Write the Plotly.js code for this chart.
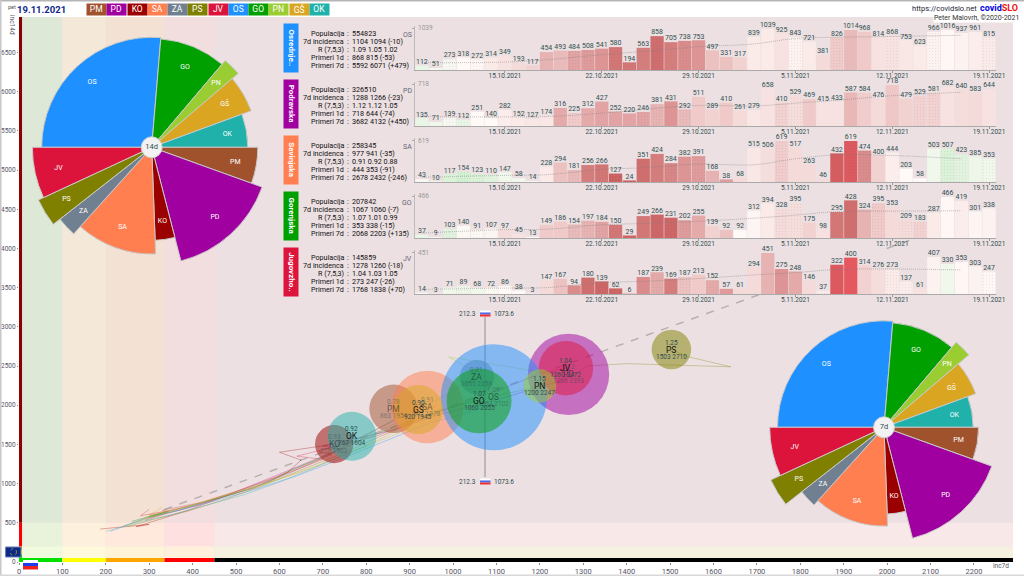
<!DOCTYPE html>
<html><head><meta charset="utf-8">
<script src="https://cdn.plot.ly/plotly-3.0.1.min.js"></script>
<style>html,body{margin:0;padding:0;background:#fff}</style></head>
<body><div id="c" style="width:1024px;height:576px"></div>
<script>
var FONT = 'Roboto, sans-serif', INK = '#2f4f4f';
var regionCodes = ['PM','PD','KO','SA','ZA','PS','JV','OS','GO','PN','GŠ','OK'];
var regionColors = ['#a0522d','#a000a0','#9b0000','#ff7f50','#708090','#808000','#dc143c','#1e90ff','#00a000','#9acd32','#daa520','#20b2aa'];
var regionPop = [116000,326510,72000,258345,58000,77000,145859,554823,207842,54000,119000,118000];
var inc7d = [863,1266,726,941,1055,1503,1260,1094,1060,1200,920,767];
var inc14d = [1954,2393,1503,1978,2358,2710,2472,2102,2055,2247,1945,1604];
var rValue = ['0.78','1.12','0.93','0.91','0.81','1.25','1.04','1.09','1.07','1.15','0.90','0.92'];
var labelFaded = [1,1,1,1,1,0,0,1,0,0,0,0];
var pieOrder = ['OS','GO','PN','GŠ','OK','PM','PD','KO','SA','ZA','PS','JV'];

var days = ['9.10.2021','10.10.2021','11.10.2021','12.10.2021','13.10.2021','14.10.2021','15.10.2021','16.10.2021','17.10.2021','18.10.2021','19.10.2021','20.10.2021','21.10.2021','22.10.2021','23.10.2021','24.10.2021','25.10.2021','26.10.2021','27.10.2021','28.10.2021','29.10.2021','30.10.2021','31.10.2021','1.11.2021','2.11.2021','3.11.2021','4.11.2021','5.11.2021','6.11.2021','7.11.2021','8.11.2021','9.11.2021','10.11.2021','11.11.2021','12.11.2021','13.11.2021','14.11.2021','15.11.2021','16.11.2021','17.11.2021','18.11.2021','19.11.2021'];
var dayTicks = ['15.10.2021','22.10.2021','29.10.2021','5.11.2021','12.11.2021','19.11.2021'];

var casesOS = [112,51,273,318,272,314,349,193,117,454,493,484,508,541,580,194,563,858,705,738,753,497,331,317,839,1039,925,843,721,381,826,1014,968,814,868,753,623,966,1016,937,961,815];
var casesPD = [135,71,139,112,251,140,282,152,127,174,316,225,312,427,252,220,246,381,431,292,511,289,410,261,279,658,410,529,469,415,433,587,584,476,718,479,529,581,682,640,583,644];
var casesSA = [43,10,117,154,123,110,147,58,14,228,294,181,256,266,127,24,351,424,284,382,391,168,38,68,515,506,619,517,263,46,432,619,474,400,444,203,58,503,507,423,385,353];
var casesGO = [37,9,103,140,91,107,97,45,13,149,186,154,197,184,150,29,249,266,231,202,255,139,92,92,312,394,328,395,175,98,295,428,324,395,353,209,183,287,466,419,301,338];
var casesJV = [14,3,71,89,68,72,86,38,3,147,167,94,180,139,62,6,187,239,169,187,213,152,57,61,294,451,275,248,146,37,322,400,314,276,273,137,61,407,330,353,303,247];

var shadeOS = [-.15,-.05,-.05,0,.02,.1,.15,.2,.25,.45,.4,.55,.6,.65,.85,.85,.8,.9,.8,.7,.65,.35,.35,.25,.1,.1,.15,.05,.1,.2,.3,.4,.3,.15,.15,.12,.1,.05,.02,.05,.08,.1];
var shadePD = [-.15,-.1,-.05,-.15,0,0,.08,.1,.12,.12,.5,.3,.5,.55,.55,.55,.55,.45,.65,.4,.3,.25,.3,.2,.12,.15,.25,.18,.3,.15,.15,.42,.28,.2,.32,.25,.25,.25,.15,.18,.2,.15];
var shadeSA = [-.05,-.05,-.25,-.3,-.25,-.2,-.1,-.08,-.02,.1,.35,.4,.8,.85,1,1,.9,.8,.75,.65,.6,.45,.6,.2,.12,.18,.28,.2,.2,.2,1.05,1.1,.7,.25,.08,0,0,-.1,-.25,-.2,-.12,-.1];
var shadeGO = [-.15,0,-.2,-.02,-.02,.03,.2,.15,0,.3,.3,.4,.45,.55,.85,.95,.85,.95,.95,.6,.5,.25,.35,0,.03,.1,.2,.18,.25,.15,.85,.9,.45,.3,.2,.2,.25,.1,.02,.08,.03,.05];
var shadeJV = [-.05,0,-.1,-.12,-.1,-.03,0,0,0,.2,.35,.7,.9,.95,.95,.5,.7,.5,.8,.35,.3,.5,.6,.2,.2,.45,.65,.5,.2,.1,1.1,1.15,.25,.18,.1,.08,.15,.05,-.1,.02,.05,.02];

var dotsOS = [2,4,11,12,14,15,17,19,27,30,34,37,41];
var dotsPD = [2,3,11,16,17,19,26,27,36,37];
var dotsSA = [3,4,11,13,14,15,18,20,26,31,32,38,39,41];
var dotsGO = [2,4,11,12,13,14,18,19,26,27,33,35,36];
var dotsJV = [3,5,13,14,17,19,21,29,34,35,41];

var avgDays = [0,6,9,13,16,20,24,27,30,34,39];
var avgOS = [190,200,260,390,470,590,660,800,830,850,880];
var avgPD = [165,160,165,225,290,360,350,400,450,530,590];
var avgSA = [70,100,110,190,215,270,260,350,410,400,350];
var avgGO = [55,95,100,150,165,190,225,260,300,305,310];
var avgJV = [50,65,70,125,140,170,210,235,270,275,265];

var rowNames = ['Osrednje..','Podravska','Savinjska','Gorenjska','Jugovzho..'];
var rowCodes = ['OS','PD','SA','GO','JV'];
var rowStatLabels = ['Populacija','7d incidenca','R (7,5,3)','Primeri 1d','Primeri 7d'];
var statsOS = ['554823','1104 1094 (-10)','1.09 1.05 1.02','868 815 (-53)','5592 6071 (+479)'];
var statsPD = ['326510','1288 1266 (-23)','1.12 1.12 1.05','718 644 (-74)','3682 4132 (+450)'];
var statsSA = ['258345','977 941 (-35)','0.91 0.92 0.88','444 353 (-91)','2678 2432 (-246)'];
var statsGO = ['207842','1067 1060 (-7)','1.07 1.01 0.99','353 338 (-15)','2068 2203 (+135)'];
var statsJV = ['145859','1278 1260 (-18)','1.04 1.03 1.05','273 247 (-26)','1768 1838 (+70)'];

var pathX = {
 PM:[300,345,330,420,500,590,650,720,690,790,860,880,863],
 PD:[290,340,410,480,560,640,740,700,860,980,1120,1240,1266],
 KO:[187,300,270,330,390,470,545,620,650,600,690,726],
 SA:[260,330,300,400,480,560,640,720,800,880,960,941],
 ZA:[240,310,370,450,530,610,700,790,880,960,1020,1055],
 PS:[250,320,390,470,560,650,760,880,1010,1180,1250,1310,1400,1640,1540,1503],
 JV:[300,280,350,430,520,600,700,640,820,960,1100,1200,1260],
 OS:[210,290,360,450,540,640,730,840,950,1030,1110,1094],
 GO:[260,340,300,400,490,580,630,700,790,880,980,1060],
 PN:[240,300,380,470,570,670,780,900,1020,1130,990,1240,1200],
 'GŠ':[330,290,370,460,550,650,750,830,900,950,920],
 OK:[200,280,350,430,520,610,680,740,800,767]
};
var pathY = {
 PM:[560,640,660,760,900,1080,1220,1370,1410,1590,1800,1900,1954],
 PD:[530,620,720,850,1030,1210,1440,1480,1680,1900,2100,2300,2393],
 KO:[420,480,450,560,660,830,950,1150,1300,1400,1480,1503],
 SA:[500,620,600,720,860,1020,1180,1370,1600,1800,1990,1978],
 ZA:[460,580,660,800,930,1100,1330,1600,1850,2060,2250,2358],
 PS:[450,560,650,790,970,1170,1420,1720,2000,2220,2300,2500,2530,2490,2620,2710],
 JV:[670,590,660,770,930,1090,1310,1350,1600,1900,2180,2400,2472],
 OS:[390,560,650,780,920,1100,1290,1540,1780,1900,2050,2102],
 GO:[520,640,580,720,860,1030,1180,1340,1560,1750,1950,2055],
 PN:[450,560,690,840,1000,1190,1430,1700,1950,2180,2615,2390,2247],
 'GŠ':[700,560,680,830,970,1150,1360,1560,1780,1900,1945],
 OK:[390,510,600,720,860,1040,1200,1350,1480,1604]
};
var refLineX = [335,2080];
var refLineY = [670,4160];
var sloX = [1073.6,1073.6];
var sloY = [1084,3125];
var xBandEdges = [0,100,200,335,450,2290];
var xBandHigh = ['#dee8d6','#f4e8d8','#f3e2d4','#f2dede','#ece0e2'];
var xBandMid = ['#e9f3dc','#fdf0dc','#ffe8dc','#ffe0e0','#f8e8e8'];
var xBandLow = ['#f0fadd','#fffadb','#fff3d8','#fff0dc','#f5f0e0'];
var xAxisBar = ['#00e000','#ffff00','#ffa500','#ff0000','#000000'];
var yAxisEdges = [0,100,150,200,500,6952];
var yAxisBar = ['#00e000','#ffff00','#ffa500','#ff0000','#8b0000'];

function P(x){return x/1024;} function Q(y){return 1-y/576;}
function lerp(a,b,t){return a+(b-a)*t;}
function shadeColor(s){
  var st=[[-.3,210,240,210],[0,255,250,248],[.5,228,170,170],[1,202,95,95],[1.2,238,85,95]];
  s=Math.max(-.3,Math.min(1.2,s));
  for(var i=0;i<st.length-1;i++){ if(s<=st[i+1][0]){
    var t=(s-st[i][0])/(st[i+1][0]-st[i][0]);
    return 'rgb('+[1,2,3].map(function(k){return Math.round(lerp(st[i][k],st[i+1][k],t));}).join(',')+')';
  }}
}
var anns=[], shapes=[], traces=[];
function ann(x,y,text,o){
  o=o||{};
  var a={xref:'paper',yref:'paper',x:P(x),y:Q(y),text:text,showarrow:false,xanchor:o.xa||'center',yanchor:'middle',
    font:{family:FONT,size:o.size||8,color:o.color||INK},borderpad:0,captureevents:false};
  ['bgcolor','width','height','textangle','align'].forEach(function(k){if(o[k]!==undefined)a[k]=o[k];});
  anns.push(a);
}
function rectPx(x0,y0,x1,y1,fill,line){
  shapes.push({type:'rect',xref:'paper',yref:'paper',x0:P(x0),x1:P(x1),y0:Q(y0),y1:Q(y1),fillcolor:fill,line:line||{width:0},layer:'above'});
}
for(var i=0;i<5;i++){
  [[500,6952,xBandHigh],[200,500,xBandMid],[0,200,xBandLow]].forEach(function(b){
    shapes.push({type:'rect',xref:'x',yref:'y',x0:xBandEdges[i],x1:xBandEdges[i+1],y0:b[0],y1:b[1],fillcolor:b[2][i],line:{width:0},layer:'below'});
  });
  shapes.push({type:'rect',xref:'x',yref:'y',x0:xBandEdges[i],x1:xBandEdges[i+1],y0:0,y1:50,fillcolor:xAxisBar[i],line:{width:0},layer:'below'});
  shapes.push({type:'rect',xref:'x',yref:'y',x0:0,x1:7,y0:yAxisEdges[i],y1:yAxisEdges[i+1],fillcolor:yAxisBar[i],line:{width:0},layer:'below'});
}
traces.push({type:'scatter',mode:'lines',x:refLineX,y:refLineY,xaxis:'x',yaxis:'y',line:{color:'#b8b0b0',width:1.5,dash:'8px,8px'},hoverinfo:'skip'});
traces.push({type:'scatter',mode:'lines',x:sloX,y:sloY,xaxis:'x',yaxis:'y',line:{color:'rgba(120,120,130,.5)',width:1.6},hoverinfo:'skip'});
regionCodes.forEach(function(c,i){
  traces.push({type:'scatter',mode:'lines',x:pathX[c],y:pathY[c],xaxis:'x',yaxis:'y',opacity:.45,line:{color:regionColors[i],width:.7},hoverinfo:'skip'});
});
regionCodes.forEach(function(c,i){
  traces.push({type:'scatter',mode:'markers',x:[inc7d[i]],y:[inc14d[i]],xaxis:'x',yaxis:'y',hoverinfo:'skip',
    marker:{size:[regionPop[i]],sizemode:'area',sizeref:98.6,color:regionColors[i],opacity:.5,line:{width:0}}});
  var col=labelFaded[i]?'rgba(47,79,79,.5)':'#2f4f4f', col2=labelFaded[i]?'rgba(20,40,40,.6)':'#111';
  [[rValue[i],6.5,col,7],[c,8.5,col2,0],[inc7d[i]+' '+inc14d[i],6.5,col,-7]].forEach(function(l){
    anns.push({xref:'x',yref:'y',x:inc7d[i],y:inc14d[i],text:l[0],showarrow:false,yshift:l[3],font:{family:FONT,size:l[1],color:l[2]}});
  });
});
var caseSets=[casesOS,casesPD,casesSA,casesGO,casesJV], shadeSets=[shadeOS,shadePD,shadeSA,shadeGO,shadeJV],
    dotSets=[dotsOS,dotsPD,dotsSA,dotsGO,dotsJV], avgSets=[avgOS,avgPD,avgSA,avgGO,avgJV],
    statSets=[statsOS,statsPD,statsSA,statsGO,statsJV];
var layoutAxes={};
rowCodes.forEach(function(code,r){
  var n=r+2, vals=caseSets[r], max=Math.max.apply(null,vals), bottom=70+56*r, top=26+56*r;
  var color=regionColors[regionCodes.indexOf(code)];
  traces.push({type:'bar',x:days,y:vals,xaxis:'x'+n,yaxis:'y'+n,hoverinfo:'skip',
    marker:{color:shadeSets[r].map(shadeColor),line:{width:0},
      pattern:{shape:vals.map(function(v,k){return dotSets[r].indexOf(k)>=0?'.':'';}),size:3,solidity:.06,fgcolor:'rgba(170,100,100,.4)',fgopacity:.2,fillmode:'overlay'}}});
  traces.push({type:'scatter',mode:'lines',x:avgDays.map(function(k){return days[k];}),y:avgSets[r],xaxis:'x'+n,yaxis:'y'+n,
    line:{color:'rgba(125,125,125,.65)',width:.8,dash:'1px,1px',shape:'spline'},hoverinfo:'skip'});
  traces.push({type:'scatter',mode:'text',x:days,y:vals,xaxis:'x'+n,yaxis:'y'+n,text:vals.map(String),textposition:'top center',cliponaxis:false,
    textfont:{family:FONT,size:7,color:INK},hoverinfo:'skip'});
  layoutAxes['xaxis'+n]={domain:[P(415),P(996)],anchor:'y'+n,type:'category',categoryorder:'array',categoryarray:days,range:[-.5,41.5],
    tickmode:'array',tickvals:dayTicks,ticktext:dayTicks,ticks:'outside',ticklen:2,tickcolor:'#999',tickfont:{family:FONT,size:6.5,color:INK},tickangle:0,ticklabelstandoff:-3,
    showgrid:false,zeroline:false,showline:true,linecolor:'#aaa',linewidth:1};
  layoutAxes['yaxis'+n]={domain:[Q(bottom),Q(top)],anchor:'x'+n,range:[0,max*1.073],tickmode:'array',tickvals:[max],ticktext:[''],ticks:'outside',ticklen:2,tickcolor:'#aaa',
    showgrid:false,zeroline:false,showline:true,linecolor:'#bbb',linewidth:1};
  ann(417,top+2.5,String(max),{xa:'left',size:6.5,color:'#999'});
  ann(407,top+9,code,{size:7,color:'#667'});
  ann(291,(top-2+bottom+2)/2,'<b>'+rowNames[r]+'</b>',{color:'#fff',size:8,bgcolor:color,width:48,height:14,textangle:90});
  rowStatLabels.forEach(function(l,k){
    var y=top+7.3+8*k;
    ann(345,y,l,{xa:'right',size:7.2,color:'#111'});
    ann(347.5,y,':',{size:7.2,color:'#111'});
    ann(351,y,statSets[r][k],{xa:'left',size:7.2,color:'#111'});
  });
});
var total=regionPop.reduce(function(a,b){return a+b;},0);
function rose(sub,cx,cy,k,incs,label){
  var start=270,th=[],w=[],rr=[],cols=[],txt=[];
  pieOrder.forEach(function(c){
    var i=regionCodes.indexOf(c), span=360*regionPop[i]/total;
    th.push(start+span/2); w.push(span); rr.push(Math.sqrt(incs[i])); cols.push(regionColors[i]); txt.push(c);
    start+=span;
  });
  traces.push({type:'barpolar',subplot:sub,theta:th,width:w,r:rr,hoverinfo:'skip',marker:{color:cols,line:{color:'#c8c8c8',width:1}}});
  traces.push({type:'scatterpolar',subplot:sub,mode:'text',theta:th,r:rr.map(function(v){return v*.8;}),text:txt,hoverinfo:'skip',textfont:{family:FONT,size:7,color:'#fff'}});
  traces.push({type:'scatterpolar',subplot:sub,mode:'markers+text',theta:[0],r:[0],text:[label],textposition:'middle center',hoverinfo:'skip',
    textfont:{family:FONT,size:7.5,color:INK},marker:{size:21,color:'#f2f2f2',line:{color:'#cfcfcf',width:1}}});
  var D=130;
  layoutAxes[sub]={domain:{x:[P(cx-D),P(cx+D)],y:[Q(cy+D),Q(cy-D)]},bgcolor:'rgba(0,0,0,0)',
    radialaxis:{visible:false,range:[0,D/k]},angularaxis:{visible:false,direction:'clockwise',rotation:90}};
}
rose('polar',151.7,147.3,2.40,inc14d,'14d');
rose('polar2',884,427.3,3.22,inc7d,'7d');

regionCodes.forEach(function(c,i){
  ann(96.7+20.25*i,9.6,c,{color:'#fff',size:8.5,bgcolor:regionColors[i],width:18.5,height:10.5});
});
ann(41.5,9,'<b>19.11.2021</b>',{color:'#0b2a8a',size:9.5});
ann(12,7,'pet',{size:5.5,color:'#555'});
ann(944,8.5,'https://covidslo.net',{size:7.5,color:'#223'});
ann(998.5,8,'<b><span style="color:#0000e6">covid</span><span style="color:#f01010">SLO</span></b>',{size:9});
ann(976.5,18,'Peter Malovrh, ©2020-2021',{size:7,color:'#333',bgcolor:'#fff'});
ann(12,25,'inc14d',{size:6.5,textangle:90,color:'#556'});
ann(1001,566,'inc7d',{size:6.5,color:'#556'});
[[313.5,310.5],[481.5,478.5]].forEach(function(p){
  ann(477,p[0],'212.3',{xa:'right',size:6.5});
  ann(492.5,p[0],'1073.6',{xa:'left',size:6.5});
  rectPx(480,p[1],490.5,p[1]+2,'#fff'); rectPx(480,p[1]+2,490.5,p[1]+4,'#4a6cf0'); rectPx(480,p[1]+4,490.5,p[1]+6,'#ef3030');
});
rectPx(23,560,38,563,'#fff'); rectPx(23,563,38,566,'#1a3df0'); rectPx(23,566,38,569.5,'#ef2020');
rectPx(5.5,547,21,557,'#0b2a8a',{color:'#6d7fb8',width:1});
shapes.push({type:'circle',xref:'paper',yref:'paper',x0:P(10),x1:P(16.5),y0:Q(555.3),y1:Q(548.7),line:{color:'#c9b400',width:.7,dash:'dot'},layer:'above'});
rectPx(0,0,1024,1.5,'#b5b5b5'); rectPx(0,0,1.5,576,'#c8c8c8'); rectPx(0,574.5,1024,576,'#d8d8d8');

var layout=Object.assign({
  width:1024,height:576,margin:{l:0,r:0,t:0,b:0},showlegend:false,paper_bgcolor:'#fff',plot_bgcolor:'#ece0e2',bargap:.04,
  font:{family:FONT},
  xaxis:{domain:[P(19),P(1013)],anchor:'y',range:[0,2290],tickmode:'array',tickvals:[0,100,200,300,400,500,600,700,800,900,1000,1100,1200,1300,1400,1500,1600,1700,1800,1900,2000,2100,2200],
    ticks:'outside',ticklen:2,tickcolor:'#888',tickfont:{family:FONT,size:7.5,color:'#556'},showgrid:false,zeroline:false,showline:false},
  yaxis:{domain:[Q(562),Q(17)],anchor:'x',range:[0,6952],dtick:500,ticks:'outside',ticklen:1,tickcolor:'#888',tickfont:{family:FONT,size:6.5,color:'#556'},showgrid:false,zeroline:false,showline:false},
  annotations:anns,shapes:shapes
},layoutAxes);
Plotly.newPlot('c',traces,layout,{staticPlot:true,displayModeBar:false});
</script></body></html>
